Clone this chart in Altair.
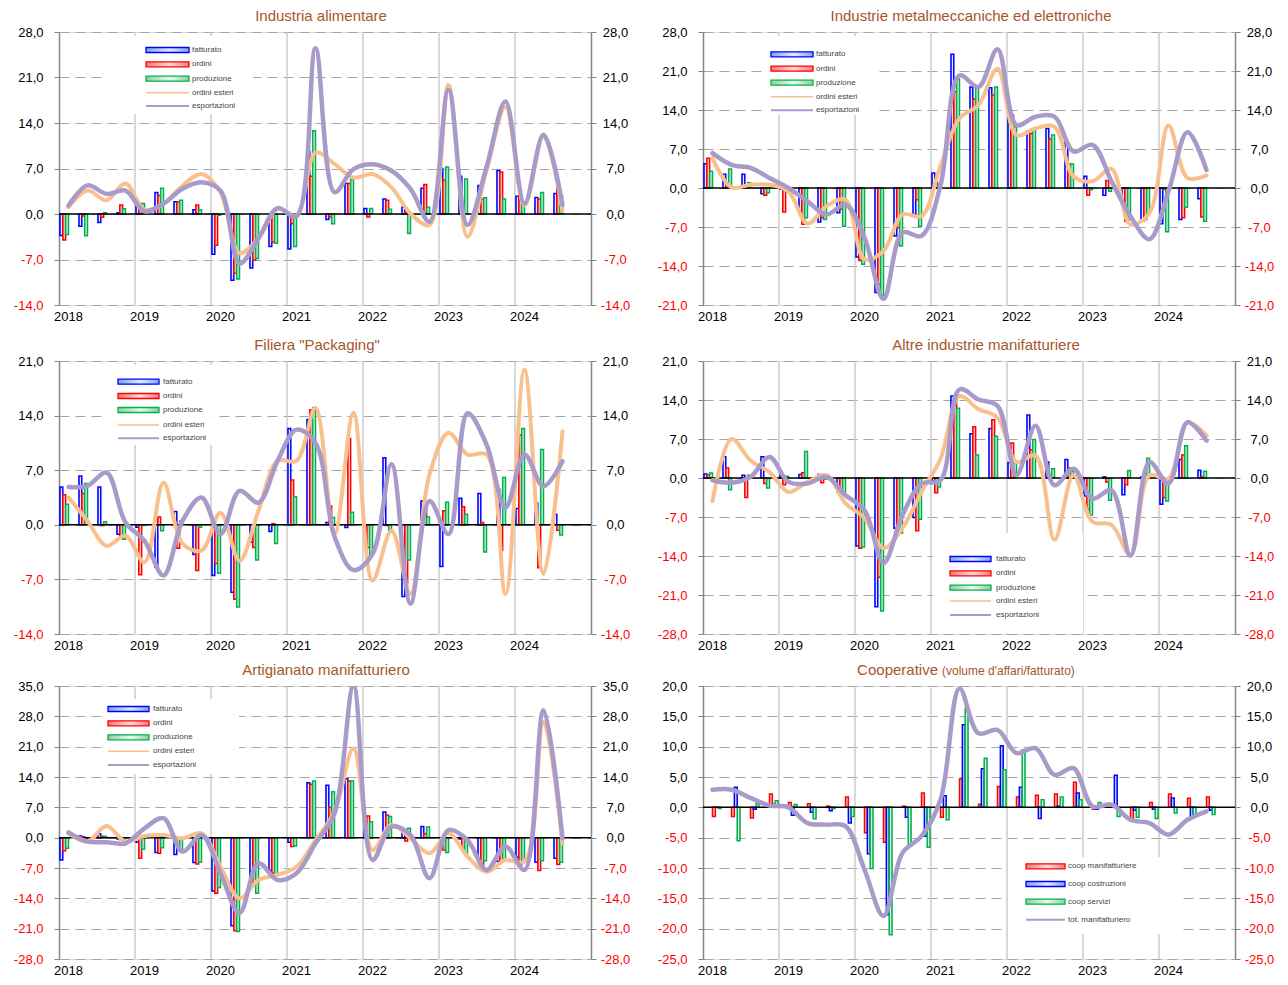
import altair as alt
import pandas as pd

# ---------------- data ----------------
YEARS = [2018, 2019, 2020, 2021, 2022, 2023, 2024]
QUARTERS = [f"{y}Q{q}" for y in YEARS for q in (1, 2, 3, 4)]
DATA_QUARTERS = QUARTERS[:27]  # 2018Q1 .. 2024Q3

# Industria alimentare
alim_fatturato = [-3.3, -1.9, -1.3, 0.2, 1.9, 3.3, 1.9, 0.65, -6.2, -10.2, -8.3, -5.0, -5.4, 9.6, -0.85, 4.7, 0.85, 2.3, 1.05, 3.95, 7.0, 5.8, 4.4, 6.7, 2.75, 2.55, 3.15]
alim_ordini = [-4.0, -0.3, -0.5, 1.4, 1.6, 2.85, 1.9, 1.4, -4.8, -9.1, -7.1, -4.3, -1.5, 5.8, -0.45, 4.7, -0.45, 2.1, 0.25, 4.55, 5.2, 1.5, 2.3, 6.45, 2.9, 2.3, 3.95]
alim_produzione = [-3.15, -3.35, 0.2, 0.8, 1.6, 3.95, 2.1, 0.65, -0.2, -10.0, -6.85, -4.5, -5.0, 12.8, -1.5, 5.4, 0.85, 0.75, -3.0, 1.05, 7.25, 5.4, 2.5, 2.3, 1.6, 3.3, 2.9]
alim_ordini_esteri = [1.05, 3.6, 2.1, 4.7, 0.65, 1.6, 4.35, 6.15, 3.3, -6.0, -3.75, 0.8, -0.2, 9.45, 7.7, 5.6, 6.15, 4.1, 0.05, -1.7, 19.85, -3.5, 6.65, 16.5, 1.3, 12.0, 0.55]
alim_esportazioni = [1.3, 4.4, 3.1, 3.6, 0.4, 1.6, 3.9, 4.9, 3.6, -7.6, -3.75, 0.9, -0.35, 25.5, 3.35, 6.9, 7.65, 6.65, 3.85, -1.2, 19.1, -1.7, 7.2, 17.3, 1.6, 12.2, 1.4]

# Industrie metalmeccaniche ed elettroniche
meta_fatturato = [4.35, 2.45, 2.45, -1.05, -0.2, -4.45, -6.1, -4.45, -12.4, -18.75, -8.6, -4.75, 2.7, 24.0, 18.15, 18.0, 14.3, 10.25, 10.7, 8.2, 2.1, -1.3, -3.0, -5.95, -6.4, -5.65, -1.95]
meta_ordini = [5.35, 0.9, 0.1, -1.3, -4.3, -6.5, -5.35, -3.75, -13.0, -17.3, -7.15, -2.1, 1.0, 17.3, 15.95, 16.7, 13.1, 9.8, 8.8, 4.3, -1.3, 1.35, -5.95, -5.65, -0.2, -5.35, -5.2]
meta_produzione = [3.0, 3.4, 0.95, -0.85, -0.6, -5.35, -5.65, -6.85, -13.7, -19.35, -10.4, -6.85, 0.5, 19.5, 18.15, 18.15, 11.0, 10.4, 9.5, 4.3, -0.3, -0.6, -5.65, -4.45, -7.85, -3.45, -5.95]
meta_ordini_esteri = [5.35, 0.1, 0.6, 0.6, -0.6, -6.4, -3.25, -2.1, -12.8, -11.3, -4.75, -5.05, 4.0, 12.5, 14.9, 21.4, 9.5, 10.7, 11.0, 2.1, 1.2, 3.45, -6.55, -4.45, 11.2, 1.8, 2.25]
meta_esportazioni = [6.25, 4.15, 3.6, 1.8, 0.0, -2.4, -4.75, -3.0, -8.9, -19.9, -8.0, -8.6, 0.5, 20.2, 18.15, 24.9, 11.3, 12.8, 12.8, 6.55, 7.75, 1.2, -5.05, -9.2, -0.6, 10.0, 3.25]

# Filiera "Packaging"
pack_fatturato = [4.85, 6.25, 4.85, -1.2, -0.3, -5.45, 1.7, -3.8, -6.5, -8.65, -2.25, -0.85, 12.35, 13.5, 0.3, -0.35, -0.3, 8.6, -9.2, 3.05, -5.35, 3.4, 4.0, 4.55, 2.1, 2.75, 1.35]
pack_ordini = [3.85, 4.0, -0.1, -1.4, -6.4, 1.0, -3.0, -5.85, -4.95, -9.55, -2.9, 0.15, 5.75, 14.75, 2.4, 11.05, -2.9, -0.1, -7.55, 2.2, 1.8, 2.3, 0.3, -3.3, 11.5, -5.5, -0.7]
pack_produzione = [2.65, 5.3, 0.4, -1.85, -0.1, -0.75, 0.5, -0.3, -6.2, -10.55, -4.5, -2.4, 3.6, 15.0, 0.95, 1.6, -3.8, -0.7, -4.5, 1.0, 2.9, 1.35, -3.5, 6.05, 12.35, 9.65, -1.3]
pack_ordini_esteri = [3.5, 0.5, -2.7, -1.4, -4.8, 5.4, -2.4, -3.3, 1.55, -4.6, 1.8, 8.2, 8.2, 15.0, -1.2, 14.35, -7.15, -0.75, -8.85, 6.45, 11.8, 9.0, 9.0, -8.85, 19.9, -6.3, 12.0]
pack_esportazioni = [4.85, 5.0, 6.7, 0.3, -2.05, -6.5, 0.5, 3.5, -1.2, 4.35, 2.85, 8.2, 12.2, 10.5, -1.5, -5.8, -3.75, 7.75, -10.1, 3.05, -1.2, 14.3, 10.3, 2.2, 9.0, 4.95, 8.15]

# Altre industrie manifatturiere
altre_fatturato = [0.7, 3.8, 0.5, 3.8, 0.5, 0.65, 0.65, -2.5, -12.2, -23.1, -9.0, -7.1, -0.5, 14.7, 7.95, 8.9, 2.8, 11.3, 2.85, 3.3, -3.25, 0.2, -3.0, 0.2, -4.7, 3.3, 1.4]
altre_ordini = [0.6, 1.8, -3.5, -1.0, -1.2, 0.95, -0.85, -2.7, -12.6, -17.8, -9.9, -9.45, -2.65, 14.6, 9.2, 10.45, 6.3, 5.05, 0.65, 1.8, -5.65, -0.7, -1.2, 0.5, -3.5, 4.15, 0.2]
altre_produzione = [0.9, -2.1, 0.5, -1.8, 0.3, 4.75, -0.2, -2.5, -12.4, -23.85, -9.9, -7.4, -1.6, 12.5, 4.15, 7.5, 3.0, 6.9, 1.65, 1.2, -6.65, -4.0, 1.35, 3.55, -4.15, 5.8, 1.2]
altre_ordini_esteri = [-4.15, 7.0, 3.15, 1.05, -2.5, -0.7, 0.5, -4.55, -7.2, -12.6, -9.0, -2.5, 3.45, 14.7, 12.35, 10.85, 2.85, 4.05, -11.1, 0.5, -7.85, -8.4, -13.8, 0.5, -0.1, 10.0, 7.6]
altre_esportazioni = [-0.4, -0.85, 0.2, 3.75, -0.7, -1.0, 0.2, -3.1, -5.75, -15.25, -6.65, -1.0, -0.4, 15.9, 14.1, 12.95, 0.5, 9.4, -1.3, 1.65, -3.7, -2.2, -13.95, 2.85, -1.0, 10.0, 6.7]

# Artigianato manifatturiero
arti_fatturato = [-5.15, 0.4, 0.9, -0.3, -1.05, -3.4, -3.9, -5.75, -12.3, -20.35, -11.3, -7.5, -1.05, 12.65, 12.1, 13.65, 3.0, 5.9, 1.85, 2.55, -0.2, -0.3, -5.5, -5.5, -4.5, -5.7, -4.75]
arti_ordini = [-3.0, 0.2, 0.3, -0.5, -4.75, -3.6, -1.5, -6.05, -12.8, -21.5, -10.5, -8.2, -2.05, 12.35, 7.0, 13.1, 5.0, 5.2, -0.75, 0.9, -2.85, -2.45, -6.35, -5.7, -6.35, -7.6, -6.2]
arti_produzione = [-2.45, -0.3, 0.3, -1.7, -2.7, -2.3, -2.85, -5.7, -11.5, -21.65, -12.8, -8.75, -1.9, 13.05, 10.6, 13.05, 3.7, 4.9, 2.15, 2.45, -3.4, -3.5, -5.35, -5.15, -5.7, -5.3, -5.7]
arti_ordini_esteri = [1.0, -0.9, 2.7, -0.9, 0.4, 0.6, -0.15, 1.0, -6.7, -14.0, -9.75, -8.6, -6.7, -0.55, 6.0, 20.55, -2.85, 2.9, -0.15, -3.6, 1.0, -4.35, -7.85, -5.15, -5.5, 26.7, -1.3]
arti_esportazioni = [1.2, -0.9, -1.05, -1.3, 2.15, 4.5, -3.2, 0.6, -8.2, -17.4, -5.9, -9.75, -8.2, -1.3, 5.6, 35.0, -5.15, 2.55, 0.6, -9.35, 1.75, -0.55, -7.45, -2.05, -7.45, 29.4, -0.15]

# Cooperative (volume d'affari/fatturato)
coop_manifatturiere = [-1.5, -1.5, -1.75, 2.2, 0.8, 0.6, 0.2, 1.7, -4.2, -5.75, 0.2, 2.35, -1.65, 4.65, 0.5, 3.45, 1.7, 2.0, 2.2, 4.15, -0.3, 0.5, -2.0, 0.8, 2.2, 1.5, 1.7]
coop_costruzioni = [0.0, 3.3, -0.3, 0.5, -1.3, -0.8, -0.55, -2.6, -7.65, -17.7, -1.65, -4.75, 1.9, 13.6, 6.35, 10.15, 3.3, -1.85, 0.2, 2.35, -0.3, 5.3, -0.5, -0.3, 1.55, -1.65, -0.5]
coop_servizi = [-0.2, -5.5, 0.6, 1.1, 0.45, -1.9, -0.2, -1.5, -10.1, -21.0, -6.15, -6.6, -2.05, 16.35, 8.1, 6.2, 9.5, 1.25, 1.7, 1.25, 0.8, -1.5, -1.65, -1.85, -0.95, -1.2, -1.2]
tot_manifatturiero = [2.9, 2.9, 1.55, 0.3, 0.0, -2.6, -2.85, -3.1, -10.25, -17.9, -7.5, -4.75, 1.25, 19.6, 12.2, 12.75, 8.95, 9.75, 5.35, 6.45, 0.15, 0.45, -2.05, -2.6, -4.5, -2.05, -0.65]

# ---------------- style ----------------
W, H = 532, 273
FONT = "Liberation Sans"
TITLE_COLOR = "#A5562A"
# (stroke, gradient edge, gradient centre)
BLUE = ("#0000FF", "#7DA6EC", "#E0EAFB")
RED = ("#FF0000", "#EE7A7A", "#FCDADA")
GREEN = ("#00B050", "#8CD29D", "#EAF8EE")
ORANGE = "#F9C08E"
PURPLE = "#A99BC9"
DUMMY = pd.DataFrame({"k": [0]})


def gradient(edge, centre):
    return alt.LinearGradient(gradient="linear",
                              stops=[alt.GradientStop(color=edge, offset=0),
                                     alt.GradientStop(color=centre, offset=0.55),
                                     alt.GradientStop(color=edge, offset=1)],
                              x1=0, x2=1, y1=0, y2=0)


def fmt_expr():
    return "(datum.value < 0 ? '-' : '') + replace(format(abs(datum.value), '.1f'), '.', ',')"


def panel(title, subtitle, ydom, ystep, bars, lines, legend):
    ticks = []
    v = ydom[0]
    while v <= ydom[1] + 1e-9:
        ticks.append(v)
        v += ystep
    x_scale = alt.Scale(type="band", domain=QUARTERS, paddingInner=0, paddingOuter=0)
    y_scale = alt.Scale(domain=ydom, nice=False, zero=False)
    x_axis = alt.Axis(values=[f"{y}Q1" for y in YEARS], labelExpr="substring(datum.label, 0, 4)",
                      ticks=False, domain=False, grid=False, labelFontSize=13, labelPadding=5,
                      labelColor="#000000", labelAngle=0, title=None, minExtent=20, maxExtent=20,
                      labelFont=FONT)
    label_color = alt.condition("datum.value < 0", alt.value("#FF0000"), alt.value("#000000"))
    left_axis = alt.Axis(orient="left", values=ticks, labelExpr=fmt_expr(), labelColor=label_color,
                         grid=True, gridDash=[10, 6], gridColor="#A6A6A6", gridWidth=1.2,
                         domainColor="#868686", domainWidth=1.5, tickColor="#868686", tickSize=5,
                         labelFontSize=13, labelPadding=11, minExtent=50, maxExtent=50, title=None,
                         labelFont=FONT)
    right_axis = alt.Axis(orient="right", values=ticks, labelExpr=fmt_expr(), labelColor=label_color,
                          grid=False, domainColor="#868686", domainWidth=1.5, tickColor="#868686",
                          tickSize=5, labelFontSize=13, labelPadding=19, labelAlign="center",
                          minExtent=42, maxExtent=42, title=None, labelFont=FONT)

    names = [b[0] for b in bars]
    years_df = pd.DataFrame({"trimestre": [f"{y}Q1" for y in YEARS[1:]]})
    zero_df = pd.DataFrame({"valore": [0.0]})

    layers = []
    # vertical year lines
    layers.append(alt.Chart(years_df).mark_rule(color="#C4C4C4", strokeWidth=1.3).encode(
        x=alt.X("trimestre:O", scale=x_scale, axis=x_axis, bandPosition=0)))
    # legend background box
    bx0, bx1, by0, by1 = legend["box"]
    layers.append(alt.Chart(DUMMY).mark_rect(fill="white").encode(
        x=alt.value(bx0), x2=alt.value(bx1), y=alt.value(by0), y2=alt.value(by1)))
    # bars, one layer per series so each can carry its own gradient fill
    for i, (bname, bvals, bcol) in enumerate(bars):
        bdf = pd.DataFrame({"trimestre": DATA_QUARTERS, "serie": bname, "valore": bvals})
        layers.append(alt.Chart(bdf).mark_bar(fill=gradient(bcol[1], bcol[2]), stroke=bcol[0],
                                              strokeWidth=1.5).encode(
            x=alt.X("trimestre:O", scale=x_scale, axis=x_axis),
            xOffset=alt.XOffset("serie:N", scale=alt.Scale(domain=names, paddingOuter=0.33, paddingInner=0)),
            y=alt.Y("valore:Q", scale=y_scale, axis=left_axis if i == 0 else None)))
    # zero line + right axis
    layers.append(alt.Chart(zero_df).mark_rule(color="#000000", strokeWidth=1.5).encode(
        y=alt.Y("valore:Q", scale=y_scale, axis=right_axis)))
    # smoothed lines
    for lname, lvals, lcol, lw in lines:
        ldf = pd.DataFrame({"trimestre": DATA_QUARTERS, "valore": lvals, "serie": lname})
        layers.append(alt.Chart(ldf).mark_line(interpolate="catmull-rom", color=lcol, strokeWidth=lw,
                                               clip=True, strokeCap="round", strokeJoin="round").encode(
            x=alt.X("trimestre:O", scale=x_scale, axis=x_axis, bandPosition=0.5),
            y=alt.Y("valore:Q", scale=y_scale, axis=None)))
    # legend items
    sx0, sx1, tx = legend["swatch"]
    for (label, kind, col, extra), ry in zip(legend["items"], legend["rows"]):
        if kind == "bar":
            layers.append(alt.Chart(DUMMY).mark_rect(fill=gradient(extra[0], extra[1]), stroke=col,
                                                     strokeWidth=1.3).encode(
                x=alt.value(sx0), x2=alt.value(sx1), y=alt.value(ry - 2.5), y2=alt.value(ry + 2.5)))
        else:
            layers.append(alt.Chart(DUMMY).mark_rule(color=col, strokeWidth=extra).encode(
                x=alt.value(sx0), x2=alt.value(sx1), y=alt.value(ry)))
        layers.append(alt.Chart(DUMMY).mark_text(align="left", baseline="middle", fontSize=8,
                                                 color="#444444", font=FONT).encode(
            x=alt.value(tx), y=alt.value(ry), text=alt.value(label)))
    # title
    if subtitle:
        layers.append(alt.Chart(DUMMY).mark_text(align="right", baseline="alphabetic", fontSize=15,
                                                 color=TITLE_COLOR, font=FONT).encode(
            x=alt.value(title[1]), y=alt.value(-11), text=alt.value(title[0])))
        layers.append(alt.Chart(DUMMY).mark_text(align="left", baseline="alphabetic", fontSize=12,
                                                 color=TITLE_COLOR, font=FONT).encode(
            x=alt.value(title[1] + 4), y=alt.value(-11), text=alt.value(subtitle)))
    else:
        layers.append(alt.Chart(DUMMY).mark_text(align="center", baseline="alphabetic", fontSize=15,
                                                 color=TITLE_COLOR, font=FONT).encode(
            x=alt.value(title[1]), y=alt.value(-11), text=alt.value(title[0])))

    return alt.layer(*layers).resolve_axis(y="independent").properties(width=W, height=H)


def std_bars(f, o, p):
    return [("fatturato", f, BLUE), ("ordini", o, RED), ("produzione", p, GREEN)]


def std_lines(oe, es):
    return [("ordini esteri", oe, ORANGE, 4), ("esportazioni", es, PURPLE, 4.5)]


STD_ITEMS = [("fatturato", "bar", BLUE[0], BLUE[1:]),
             ("ordini", "bar", RED[0], RED[1:]),
             ("produzione", "bar", GREEN[0], GREEN[1:]),
             ("ordini esteri", "line", ORANGE, 1.6),
             ("esportazioni", "line", PURPLE, 2)]

p1 = panel(("Industria alimentare", 262), None, [-14, 28], 7,
           std_bars(alim_fatturato, alim_ordini, alim_produzione),
           std_lines(alim_ordini_esteri, alim_esportazioni),
           {"box": (44, 194, 4, 82), "swatch": (87, 130, 133), "items": STD_ITEMS,
            "rows": [18, 32.3, 46.7, 60.7, 74]})
p2 = panel(("Industrie metalmeccaniche ed elettroniche", 268), None, [-21, 28], 7,
           std_bars(meta_fatturato, meta_ordini, meta_produzione),
           std_lines(meta_ordini_esteri, meta_esportazioni),
           {"box": (60, 175, 4, 83), "swatch": (68, 110, 113), "items": STD_ITEMS,
            "rows": [22.3, 36.7, 50.7, 64.7, 78.3]})
p3 = panel(("Filiera \"Packaging\"", 258), None, [-14, 21], 7,
           std_bars(pack_fatturato, pack_ordini, pack_produzione),
           std_lines(pack_ordini_esteri, pack_esportazioni),
           {"box": (44, 154, 4, 84), "swatch": (59, 100, 104), "items": STD_ITEMS,
            "rows": [20.7, 35, 49, 64, 77.3]})
p4 = panel(("Altre industrie manifatturiere", 283), None, [-28, 21], 7,
           std_bars(altre_fatturato, altre_ordini, altre_produzione),
           std_lines(altre_ordini_esteri, altre_esportazioni),
           {"box": (230, 380, 172, 272), "swatch": (247, 288, 293), "items": STD_ITEMS,
            "rows": [198, 212.3, 226.7, 240, 254]})
p5 = panel(("Artigianato manifatturiero", 267), None, [-28, 35], 7,
           std_bars(arti_fatturato, arti_ordini, arti_produzione),
           std_lines(arti_ordini_esteri, arti_esportazioni),
           {"box": (44, 180, 13, 88), "swatch": (49, 90, 94), "items": STD_ITEMS,
            "rows": [23, 37.3, 51.3, 65.3, 79]})
p6 = panel(("Cooperative", 235), "(volume d'affari/fatturato)", [-25, 20], 5,
           [("coop manifatturiere", coop_manifatturiere, RED),
            ("coop costruzioni", coop_costruzioni, BLUE),
            ("coop servizi", coop_servizi, GREEN)],
           [("tot. manifatturiero", tot_manifatturiero, PURPLE, 4.5)],
           {"box": (305, 480, 171, 248), "swatch": (323, 362, 365),
            "items": [("coop manifatturiere", "bar", RED[0], RED[1:]),
                      ("coop costruzioni", "bar", BLUE[0], BLUE[1:]),
                      ("coop servizi", "bar", GREEN[0], GREEN[1:]),
                      ("tot. manifatturiero", "line", PURPLE, 2)],
            "rows": [180.3, 198, 215.7, 233.7]})

chart = alt.vconcat(
    alt.vconcat(alt.hconcat(p1, p2, spacing=18), alt.hconcat(p3, p4, spacing=18), spacing=11),
    alt.hconcat(p5, p6, spacing=18),
    spacing=7,
).configure_view(stroke=None).configure(font=FONT).properties(padding=0)

chart.save("out.html", embed_options={"renderer": "svg", "actions": False})
